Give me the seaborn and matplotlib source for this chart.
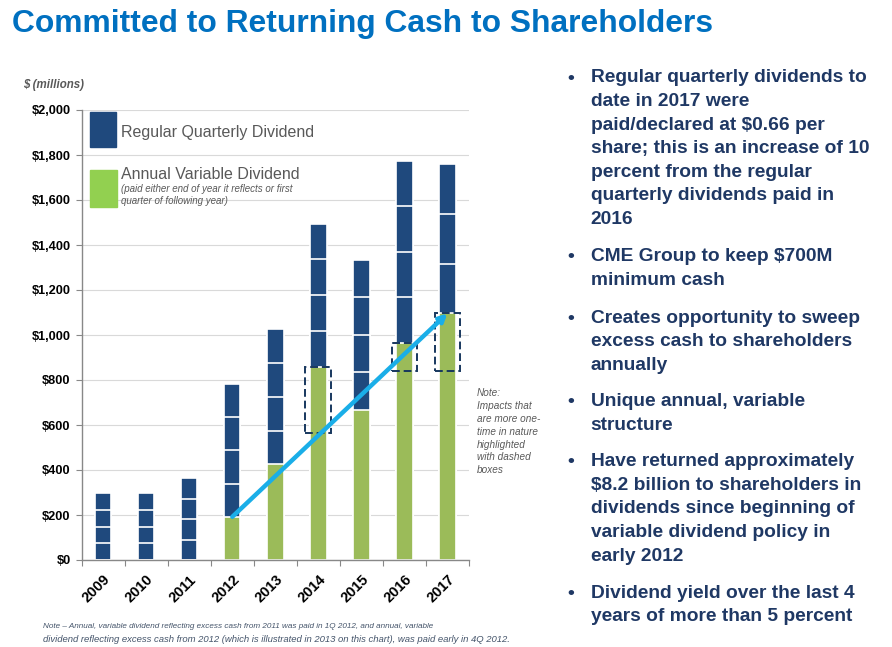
import seaborn as sns
import matplotlib.pyplot as plt
import pandas as pd
from matplotlib.patches import Rectangle

# data ($ millions)
years = ['2009', '2010', '2011', '2012', '2013', '2014', '2015', '2016', '2017']
variable = [0, 0, 0, 192, 425, 859, 667, 966, 1096]
q1 = [74, 74, 91, 148, 150, 159, 167, 202, 221]
q2 = [74, 74, 91, 148, 150, 159, 167, 202, 221]
q3 = [74, 74, 91, 148, 150, 159, 167, 202, 221]
q4 = [74, 74, 91, 148, 150, 159, 167, 202, 0]

# one-time impacts (dashed boxes)
box_years = ['2014', '2016', '2017']
box_low = [563, 841, 841]
box_high = [859, 966, 1099]

yticks = [0, 200, 400, 600, 800, 1000, 1200, 1400, 1600, 1800, 2000]

bullets = [
    ["Regular quarterly dividends to", "date in 2017 were", "paid/declared at $0.66 per",
     "share; this is an increase of 10", "percent from the regular",
     "quarterly dividends paid in", "2016"],
    ["CME Group to keep $700M", "minimum cash"],
    ["Creates opportunity to sweep", "excess cash to shareholders", "annually"],
    ["Unique annual, variable", "structure"],
    ["Have returned approximately", "$8.2 billion to shareholders in",
     "dividends since beginning of", "variable dividend policy in", "early 2012"],
    ["Dividend yield over the last 4", "years of more than 5 percent"],
]
bullet_top = [78, 256.7, 318.3, 401.7, 461.7, 593.3]

note_lines = ["Note:", "Impacts that", "are more one-", "time in nature",
              "highlighted", "with dashed", "boxes"]

NAVY = '#1F497D'
GREEN = '#9BBB59'
CYAN = '#1AAEE8'
TXT = '#1F3864'
GREY = '#595959'

sns.set_theme(style='white')
plt.rcParams['font.family'] = ['Liberation Sans', 'DejaVu Sans']
plt.rcParams['text.parse_math'] = False

W, H = 892, 647
def fx(x):
    return x / W
def fy(y):
    return 1 - y / H

df = pd.DataFrame({'year': years, 'variable': variable,
                   'q1': q1, 'q2': q2, 'q3': q3, 'q4': q4})
df['c1'] = df['variable'] + df['q1']
df['c2'] = df['c1'] + df['q2']
df['c3'] = df['c2'] + df['q3']
df['c4'] = df['c3'] + df['q4']

fig = plt.figure(figsize=(8.92, 6.47), dpi=100)
ax = fig.add_axes([fx(81.7), fy(560), (469 - 81.7) / W, 450 / H])

for col in ['c4', 'c3', 'c2', 'c1']:
    sns.barplot(data=df, x='year', y=col, color=NAVY, saturation=1, width=0.38,
                edgecolor='white', linewidth=1.2, errorbar=None, ax=ax, zorder=2)
sns.barplot(data=df, x='year', y='variable', color=GREEN, saturation=1, width=0.38,
            edgecolor='white', linewidth=1.2, errorbar=None, ax=ax, zorder=2)

for yr, lo, hi in zip(box_years, box_low, box_high):
    i = years.index(yr)
    ax.add_patch(Rectangle((i - 0.3, lo), 0.6, hi - lo, fill=False, ec='#17375E',
                           lw=1.4, ls=(0, (4, 2)), zorder=4))

i0, i1 = years.index('2012'), years.index('2017')
ax.annotate('', xy=(i1, variable[i1]), xytext=(i0, variable[i0]),
            arrowprops=dict(arrowstyle='-|>', color=CYAN, lw=3.2, mutation_scale=11,
                            shrinkA=0, shrinkB=0), zorder=5)

ax.set_xlim(-0.5, len(years) - 0.5)
ax.set_ylim(0, 2000)
ax.set_xlabel('')
ax.set_ylabel('')
ax.yaxis.grid(True, color='#d9d9d9', lw=0.8)
ax.set_axisbelow(True)

ax.set_yticks(yticks)
ax.set_yticklabels([f'${v:,}' for v in yticks], fontweight='bold', fontsize=9.2, color='black')
ax.tick_params(axis='y', left=True, length=4, width=0.8, color='#888888', pad=4)
ax.set_xticks(range(len(years)))
ax.set_xticklabels(years, rotation=45, ha='right', rotation_mode='anchor',
                   fontweight='bold', fontsize=10.5, color='black')
ax.set_xticks([i - 0.5 for i in range(len(years) + 1)], minor=True)
ax.tick_params(axis='x', which='major', length=0, pad=9)
ax.tick_params(axis='x', which='minor', bottom=True, length=4, width=0.8, color='#888888')
for s in ['top', 'right']:
    ax.spines[s].set_visible(False)
for s in ['left', 'bottom']:
    ax.spines[s].set_color('#888888')
    ax.spines[s].set_linewidth(1.0)

# legend drawn like the slide
fig.add_artist(Rectangle((fx(90), fy(147.3)), 26 / W, 35.6 / H, color=NAVY,
                         transform=fig.transFigure, zorder=3))
fig.add_artist(Rectangle((fx(90), fy(206.7)), 27 / W, 36.7 / H, color='#92D050',
                         transform=fig.transFigure, zorder=3))
fig.text(fx(120.7), fy(132.3), 'Regular Quarterly Dividend', fontsize=11.5,
         color=GREY, va='center', ha='left')
fig.text(fx(120.7), fy(175), 'Annual Variable Dividend', fontsize=11.5,
         color=GREY, va='center', ha='left')
fig.text(fx(120.7), fy(189.3), '(paid either end of year it reflects or first',
         fontsize=7, style='italic', color=GREY, va='center', ha='left')
fig.text(fx(120.7), fy(201), 'quarter of following year)',
         fontsize=7, style='italic', color=GREY, va='center', ha='left')

fig.text(fx(23), fy(85), '$ (millions)', fontsize=8.3, style='italic',
         fontweight='bold', color=GREY, va='center', ha='left')

for k, line in enumerate(note_lines):
    fig.text(fx(476.7), fy(393.3 + k * 12.8), line, fontsize=7.2, style='italic',
             color=GREY, va='center', ha='left')

# title
fig.text(fx(12), fy(32), 'Committed to Returning Cash to Shareholders', fontsize=22.9,
         fontweight='bold', color='#0070C0', va='baseline', ha='left')

# bullets
for top, lines in zip(bullet_top, bullets):
    fig.text(fx(567), fy(top), '\u2022', fontsize=13.8, fontweight='bold',
             color=TXT, va='center', ha='left')
    for k, line in enumerate(lines):
        fig.text(fx(590.7), fy(top + k * 23.6), line, fontsize=13.8,
                 fontweight='bold', color=TXT, va='center', ha='left')

# footnote
fig.text(fx(43), fy(627), 'Note \u2013 Annual, variable dividend reflecting excess cash from 2011 '
         'was paid in 1Q 2012, and annual, variable', fontsize=5.9, style='italic',
         color='#44546A', va='center', ha='left')
fig.text(fx(43), fy(639.5), 'dividend reflecting excess cash from 2012 (which is illustrated in '
         '2013 on this chart), was paid early in 4Q 2012.', fontsize=6.8, style='italic',
         color='#44546A', va='center', ha='left')

fig.savefig('out.png', dpi=100)
